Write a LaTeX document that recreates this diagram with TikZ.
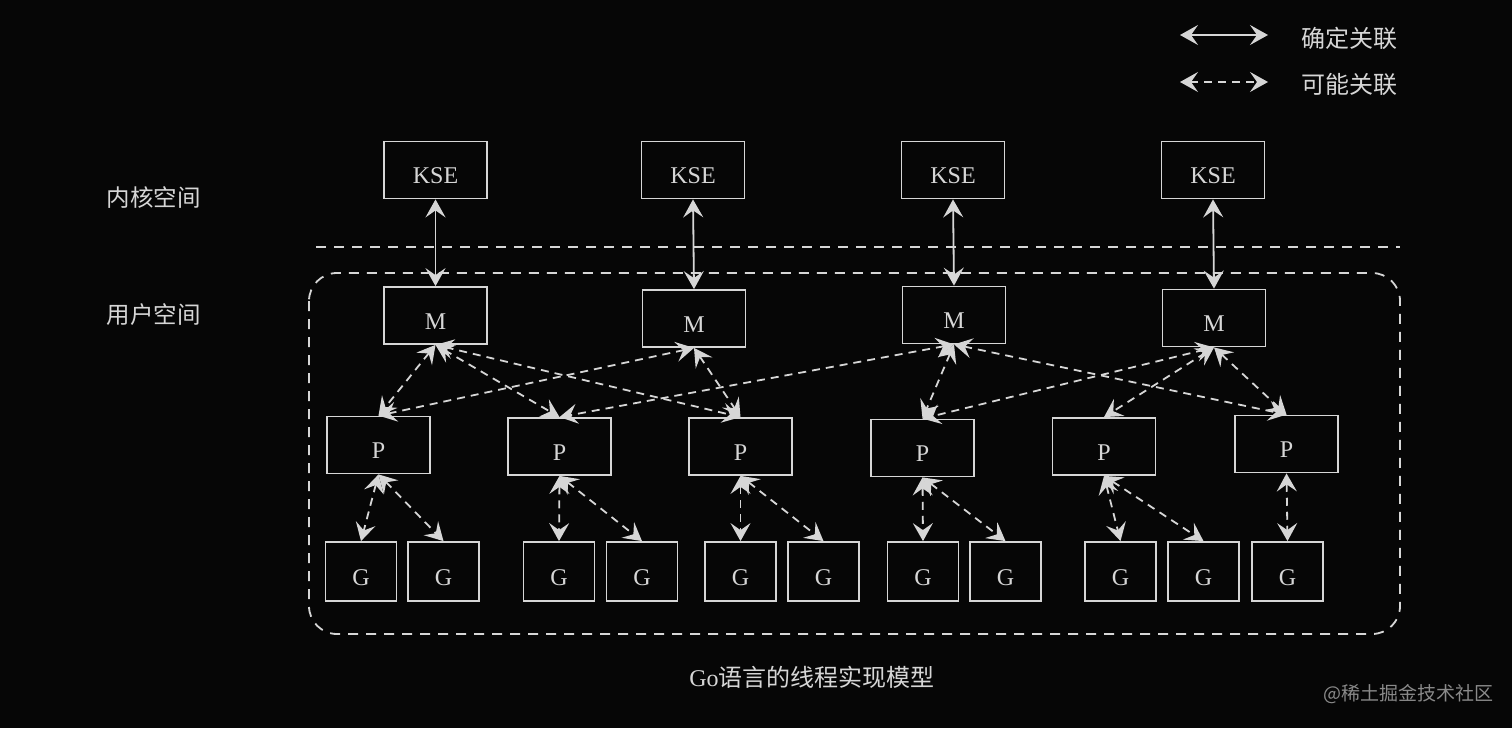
\documentclass[tikz,border=0pt]{standalone}
\usepackage{fontspec}
\setmainfont{Liberation Serif}
\newfontfamily\cjk{Noto Sans CJK SC}
\usetikzlibrary{arrows.meta}
\definecolor{bg}{HTML}{060606}
\definecolor{fg}{HTML}{D6D6D6}
\definecolor{wm}{HTML}{8A8A8A}
\begin{document}
\begin{tikzpicture}[x=1pt,y=-1pt,
  box/.style={draw=fg, line width=1.8pt, text=fg, font=\fontsize{24}{24}\selectfont, inner sep=0pt, text height=28pt, text depth=1pt, minimum width=103pt, minimum height=57pt},
  gbox/.style={box, minimum width=71pt, minimum height=59pt},
  sure/.style={draw=fg, line width=1.8pt, {Stealth[length=18pt,width=20pt,inset=7pt]}-{Stealth[length=18pt,width=20pt,inset=7pt]}},
  maybe/.style={sure, dash pattern=on 8pt off 6pt},
  lab/.style={text=fg, font=\cjk\fontsize{23.5}{23.5}\selectfont, inner sep=0pt}]
\fill[bg] (0,0) rectangle (1512,728);
\useasboundingbox (0,0) rectangle (1512,728);

% legend
\coordinate (l1a) at (1180,35); \coordinate (l1b) at (1268,35);
\coordinate (l2a) at (1180,82); \coordinate (l2b) at (1268,82);
\draw[sure] (l1a) -- (l1b);
\draw[maybe] (l2a) -- (l2b);
\node[lab, font=\cjk\fontsize{24}{24}\selectfont] (leg1) at (1349,38) {确定关联};
\node[lab, font=\cjk\fontsize{24}{24}\selectfont] (leg2) at (1349,84) {可能关联};

% side labels
\node[lab] (kern) at (153.5,198) {内核空间};
\node[lab] (user) at (153.5,315) {用户空间};

% separators
\draw[fg, line width=1.8pt, dash pattern=on 10pt off 8pt] (316,247) -- (1400,247);
\draw[fg, line width=1.8pt, dash pattern=on 10pt off 8pt, rounded corners=28pt] (309,273) rectangle (1400,634);

% KSE
\node[box] (K1) at (435.5,170) {KSE};
\node[box] (K2) at (693,170) {KSE};
\node[box] (K3) at (953,170) {KSE};
\node[box] (K4) at (1213,170) {KSE};
% M
\node[box] (M1) at (435.5,315.5) {M};
\node[box] (M2) at (694,318.5) {M};
\node[box] (M3) at (954,315) {M};
\node[box] (M4) at (1214,318) {M};
% P
\node[box] (P1) at (378.5,445) {P};
\node[box] (P2) at (559.5,446.5) {P};
\node[box] (P3) at (740.5,446.5) {P};
\node[box] (P4) at (922.5,448) {P};
\node[box] (P5) at (1104,446.5) {P};
\node[box] (P6) at (1286.5,444) {P};
% G
\foreach \n/\x in {1/361,2/443.5,3/559,4/642,5/740.5,6/823.5,7/923,8/1005.5,9/1120.5,10/1203.5,11/1287.5}
  \node[gbox] (G\n) at (\x,571.5) {G};

% KSE - M
\foreach \i in {1,2,3,4} \draw[sure] (K\i.south) -- (M\i.north);

% M - P
\draw[maybe] (M1.south) -- (P1.north);
\draw[maybe] (M1.south) -- (P2.north);
\draw[maybe] (M1.south) -- (P3.north);
\draw[maybe] (M2.south) -- (P1.north);
\draw[maybe] (M2.south) -- (P3.north);
\draw[maybe] (M3.south) -- (P2.north);
\draw[maybe] (M3.south) -- (P4.north);
\draw[maybe] (M3.south) -- (P6.north);
\draw[maybe] (M4.south) -- (P4.north);
\draw[maybe] (M4.south) -- (P5.north);
\draw[maybe] (M4.south) -- (P6.north);

% P - G
\draw[maybe] (P1.south) -- (G1.north);
\draw[maybe] (P1.south) -- (G2.north);
\draw[maybe] (P2.south) -- (G3.north);
\draw[maybe] (P2.south) -- (G4.north);
\draw[maybe] (P3.south) -- (G5.north);
\draw[maybe] (P3.south) -- (G6.north);
\draw[maybe] (P4.south) -- (G7.north);
\draw[maybe] (P4.south) -- (G8.north);
\draw[maybe] (P5.south) -- (G9.north);
\draw[maybe] (P5.south) -- (G10.north);
\draw[maybe] (P6.south) -- (G11.north);

% caption & watermark
\node[text=fg, inner sep=0pt, font=\fontsize{24}{24}\selectfont] (cap) at (812,677) {Go{\cjk 语言的线程实现模型}};
\node[text=wm, inner sep=0pt, font=\cjk\fontsize{19}{19}\selectfont] (wmk) at (1408,694) {@稀土掘金技术社区};
\end{tikzpicture}
\end{document}
